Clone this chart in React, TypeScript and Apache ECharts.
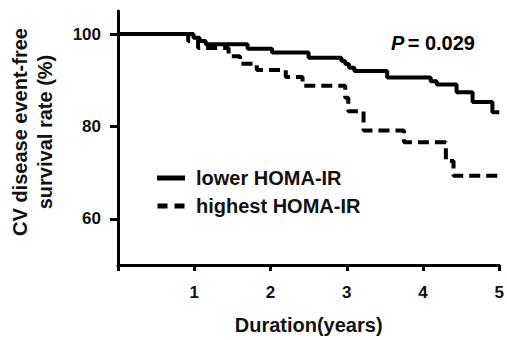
import React, { useEffect, useRef } from "react";
import * as echarts from "echarts";

const lowerX = [0, 0.99, 1.07, 1.15, 1.7, 2.02, 2.5, 2.93, 2.98, 3.03, 3.1, 3.53, 4.1, 4.18, 4.44, 4.65, 4.91, 5];
const lowerY = [100, 99.2, 98.5, 97.8, 96.8, 96.0, 94.9, 94.2, 93.5, 92.7, 92.0, 90.6, 89.8, 89.1, 87.4, 85.3, 83.1, 83.1];
const highestX = [0, 0.92, 1.05, 1.45, 1.6, 1.82, 2.2, 2.42, 2.98, 3.02, 3.22, 3.75, 4.3, 4.4, 5];
const highestY = [100, 98.5, 97.0, 95.2, 93.6, 92.2, 90.7, 88.8, 86.2, 83.3, 79.1, 76.6, 72.5, 69.3, 69.3];
const yTicks = [60, 80, 100];
const seriesNames = ["lower HOMA-IR", "highest HOMA-IR"];
const xTitle = "Duration(years)";
const yTitleLines = ["CV disease event-free", "survival rate (%)"];
const pText = "0.029";

const FONT = "'Liberation Sans', Arial, sans-serif";

export default function App() {
  const ref = useRef<HTMLDivElement>(null);
  useEffect(() => {
    if (!ref.current) return;
    const chart = echarts.init(ref.current, undefined, { renderer: "svg" });
    const axisLine = { show: true, lineStyle: { color: "#000", width: 3 } };
    chart.setOption({
      animation: false,
      backgroundColor: "#fff",
      textStyle: { fontFamily: FONT },
      grid: { left: 118, right: 7, top: 11, bottom: 71, containLabel: false },
      legend: {
        orient: "vertical",
        left: 152,
        top: 163,
        itemWidth: 28,
        itemHeight: 5,
        itemGap: 8,
        data: [
          { name: seriesNames[0], icon: "path://M0,0H28V5H0Z" },
          { name: seriesNames[1], icon: "path://M0,0H10V5H0Z M17,0H27V5H17Z" },
        ],
        itemStyle: { color: "#000", borderWidth: 0 },
        lineStyle: { width: 0, opacity: 0 },
        textStyle: { fontFamily: FONT, fontSize: 20, fontWeight: "bold", color: "#111", padding: [0, 0, 0, 6] },
      },
      xAxis: {
        type: "value",
        min: 0,
        max: 5,
        interval: 1,
        name: xTitle,
        nameLocation: "middle",
        nameGap: 50,
        nameTextStyle: { fontFamily: FONT, fontSize: 20, fontWeight: "bold", color: "#111" },
        axisLine,
        axisTick: { show: true, inside: false, length: 6, lineStyle: { color: "#000", width: 3 } },
        axisLabel: {
          margin: 19,
          fontFamily: FONT,
          fontSize: 17,
          fontWeight: "bold",
          color: "#111",
          formatter: (v: number) => (v === 0 ? "" : String(v)),
        },
        splitLine: { show: false },
      },
      yAxis: {
        type: "value",
        min: 50,
        max: 105,
        interval: 5,
        axisLine,
        axisTick: { show: true, inside: false, length: 8, lineStyle: { color: "#000", width: 3 }, customValues: yTicks },
        axisLabel: {
          margin: 17,
          fontFamily: FONT,
          fontSize: 17,
          fontWeight: "bold",
          color: "#111",
          customValues: yTicks,
        },
        splitLine: { show: false },
      },
      graphic: [
        {
          type: "text",
          x: 32,
          y: 132,
          rotation: Math.PI / 2,
          style: {
            text: yTitleLines.join("\n"),
            fontFamily: FONT,
            fontSize: 20,
            fontWeight: "bold",
            lineHeight: 25,
            fill: "#111",
            textAlign: "center",
            textVerticalAlign: "middle",
          },
        },
        {
          type: "text",
          x: 391,
          y: 43,
          style: {
            text: "{p|P} {n|= " + pText + "}",
            rich: {
              p: { fontFamily: FONT, fontSize: 20, fontWeight: "bold", fontStyle: "italic", fill: "#000" },
              n: { fontFamily: FONT, fontSize: 20, fontWeight: "bold", fill: "#000" },
            },
            textVerticalAlign: "middle",
          },
        },
      ],
      series: [
        {
          name: seriesNames[0],
          type: "line",
          step: "end",
          symbol: "none",
          color: "#000",
          lineStyle: { color: "#000", width: 4, type: "solid" },
          data: lowerX.map((x, i) => [x, lowerY[i]]),
        },
        {
          name: seriesNames[1],
          type: "line",
          step: "end",
          symbol: "none",
          color: "#000",
          lineStyle: { color: "#000", width: 4, type: [11, 6] },
          data: highestX.map((x, i) => [x, highestY[i]]),
        },
      ],
    });
    return () => chart.dispose();
  }, []);
  return <div ref={ref} style={{ width: 507, height: 340, position: "absolute", left: 0, top: 0 }} />;
}
